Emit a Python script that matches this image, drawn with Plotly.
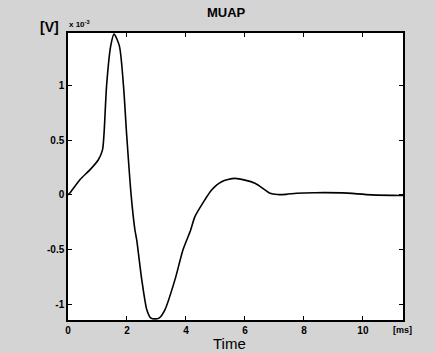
import plotly.graph_objects as go

# Time [ms]
t_ms = [0, 0.07, 0.41, 0.75, 1.03, 1.17, 1.22, 1.31, 1.45, 1.56, 1.74, 1.88, 1.99,
        2.14, 2.27, 2.33, 2.5, 2.67, 2.8, 2.95, 3.1, 3.29, 3.63, 3.9, 4.16, 4.3,
        4.64, 4.87, 5.21, 5.66, 6.34, 6.85, 7.1, 7.4, 7.75, 8.37, 9.3, 10.3, 11.36]
# Voltage [V] x 1e-3
v_mv = [0, 0.02, 0.14, 0.23, 0.32, 0.41, 0.55, 1.0, 1.36, 1.465, 1.36, 1.0, 0.545,
        0.0, -0.32, -0.41, -0.77, -1.045, -1.12, -1.13, -1.12, -1.045, -0.77, -0.5,
        -0.32, -0.2, -0.045, 0.045, 0.12, 0.15, 0.106, 0.015, 0.003, 0.005, 0.015, 0.02,
        0.018, 0.0, -0.005]

x_ticks = [0, 2, 4, 6, 8, 10]
x_tick_labels = ["0", "2", "4", "6", "8", "10"]
y_ticks = [-1, -0.5, 0, 0.5, 1]
y_tick_labels = ["-1", "-0.5", "0", "0.5", "1"]

FONT = "Liberation Sans, Arial, sans-serif"

fig = go.Figure()
fig.add_trace(go.Scatter(x=t_ms, y=v_mv, mode="lines",
                         line=dict(color="black", width=1.6, shape="spline", smoothing=0.7),
                         showlegend=False, hoverinfo="skip"))

axis_common = dict(showgrid=False, zeroline=False, showline=True, linecolor="black",
                   linewidth=1.5, mirror="ticks", ticks="inside", ticklen=4,
                   tickcolor="black", tickwidth=1,
                   tickfont=dict(family=FONT, size=10, color="black", weight="bold"))

fig.update_xaxes(range=[0, 11.36], tickvals=x_ticks, ticktext=x_tick_labels, **axis_common)
fig.update_yaxes(range=[-1.14, 1.475], tickvals=y_ticks, ticktext=y_tick_labels, **axis_common)

W, H = 435, 353
L, R, T, B = 68, 32, 33, 33
pw, ph = W - L - R, H - T - B

def px(x, y):
    return dict(x=(x - L) / pw, y=1 - (y - T) / ph, xref="paper", yref="paper",
                xanchor="center", yanchor="middle", showarrow=False)

fig.update_layout(
    width=W, height=H,
    margin=dict(l=L, r=R, t=T, b=B),
    paper_bgcolor="#d4d4d4", plot_bgcolor="white",
    font=dict(family=FONT, color="black"),
    annotations=[
        dict(text="<b>MUAP</b>", font=dict(size=13, family=FONT), **px(226, 13)),
        dict(text="<b>[V]</b>", font=dict(size=14, family=FONT), **px(49, 27)),
        dict(text="<b>x 10<sup>-3</sup></b>", font=dict(size=8, family=FONT), **px(79, 24)),
        dict(text="Time", font=dict(size=15, family=FONT), **px(229, 343)),
        dict(text="<b>[ms]</b>", font=dict(size=9, family=FONT), **px(402, 330)),
    ],
)

fig.write_html("out.html", config={"displayModeBar": False},
               post_script="document.body.style.margin='0';document.body.style.overflow='hidden';")
